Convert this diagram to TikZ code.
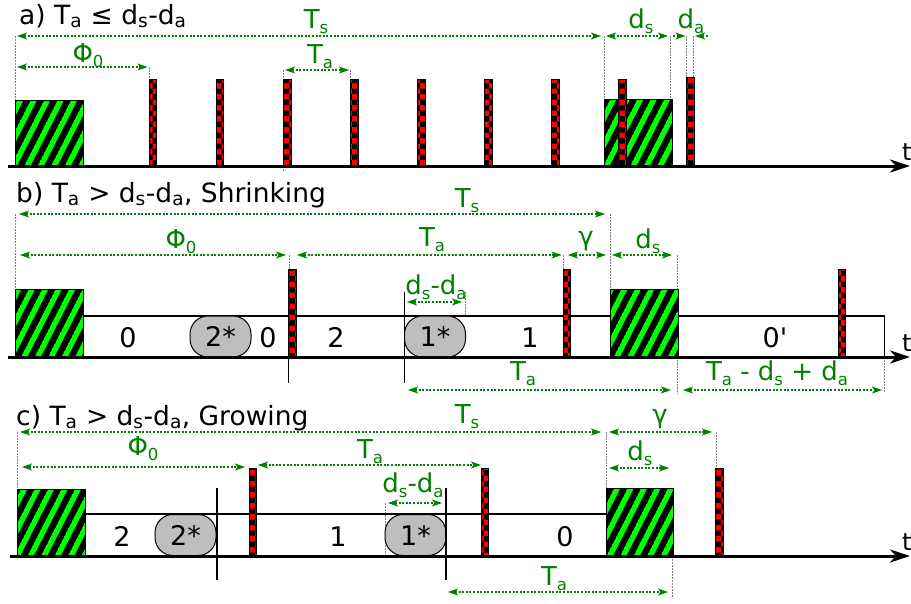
\documentclass[tikz,border=0pt]{standalone}
\usepackage{fontspec}
\setmainfont{DejaVu Sans}
\newfontfamily\plainsans{DejaVu Sans}
\usetikzlibrary{arrows.meta,patterns,patterns.meta}
\definecolor{dimgreen}{RGB}{0,128,0}
\definecolor{hatchgreen}{RGB}{0,255,0}
\definecolor{pillgray}{RGB}{190,190,190}
\newcommand\sub[1]{\textsubscript{#1}}
\newcommand\lsub[1]{\raisebox{-5.5pt}{\fontsize{16.5}{16.5}\selectfont #1}}
\tikzdeclarepattern{
  name=gstripes, type=uncolored,
  bounding box={(0pt,-3.3pt) and (12pt,3.3pt)},
  tile size={(12pt,12pt)},
  tile transformation={rotate=63},
  code={\draw[line width=6.4pt] (0pt,0pt) -- (12pt,0pt);}
}
\tikzset{
  axisline/.style={line width=3pt, -{Stealth[length=20pt,width=13pt,inset=6pt]}},
  hatchbox/.style={draw=black, line width=1pt, fill=hatchgreen, postaction={pattern=gstripes, pattern color=black}},
  alarmbar/.style={draw=black, line width=1pt, fill=red, postaction={pattern=checkerboard, pattern color=black}},
  bandline/.style={draw=black, line width=1.2pt},
  cutline/.style={draw=black, line width=1.2pt},
  pill/.style={draw=black, line width=1pt, fill=pillgray, rounded corners=18pt, minimum width=61pt, minimum height=41pt, inner sep=0pt, font=\fontsize{27}{27}\selectfont},
  dimline/.style={dimgreen, dash pattern=on 2pt off 1.6pt, line width=1.2pt, {Stealth[length=10pt,width=7pt,inset=2.5pt]}-{Stealth[length=10pt,width=7pt,inset=2.5pt]}},
  halfdim/.style={dimgreen, dash pattern=on 2pt off 1.6pt, line width=1.2pt, -{Stealth[length=10pt,width=7pt,inset=2.5pt]}},
  guide/.style={gray, dash pattern=on 1.6pt off 1.4pt, line width=0.8pt},
  lbl/.style={dimgreen, font=\fontsize{26}{26}\selectfont, anchor=base, inner sep=0pt},
  num/.style={black, font=\fontsize{27}{27}\selectfont, anchor=base, inner sep=0pt},
  ttl/.style={black, font=\fontsize{26.5}{26.5}\selectfont, anchor=base west, inner sep=0pt},
  tlabel/.style={anchor=base west, inner sep=0pt, font=\fontsize{24}{24}\selectfont},
}
\newcommand\redbar[3]{\draw[alarmbar] (#1,#2) rectangle (#1+7.5,#3);}
\newcommand\greenbox[4]{\draw[hatchbox] (#1,#2) rectangle (#3,#4);}
\begin{document}
\begin{tikzpicture}[x=1pt,y=-1pt]
\useasboundingbox (0,0) rectangle (911,603);
% ================= panel a =================
\node[ttl] (ttla) at (19,24) {a) T\sub{a} ≤ d\sub{s}-d\sub{a}};
\draw[guide] (15,36) -- (15,166);
\draw[guide] (149.3,67) -- (149.3,79);
\draw[guide] (283.5,70) -- (283.5,171);
\draw[guide] (350.5,70) -- (350.5,79);
\draw[guide] (604,36) -- (604,99);
\draw[guide] (670,36) -- (670,99);
\draw[guide] (686.7,36) -- (686.7,77);
\draw[guide] (693.5,36) -- (693.5,77);
\greenbox{15}{100}{83}{166}
\greenbox{604}{99}{672}{166}
\foreach \x in {149.3,216.3,283.5,350.5,417.5,484.5,551.5,618.7}{\redbar{\x}{79}{166}}
\redbar{686.7}{77}{166}
\draw[axisline] (8,166) -- (910,166);
\node[tlabel] (tA) at (902,160) {t};
\draw[dimline] (17,36) -- (601,36);
\draw[dimline] (606,36) -- (668,36);
\draw[halfdim] (673,36) -- (685.5,36);
\draw[halfdim] (708,36) -- (695,36);
\draw[dimline] (17,67) -- (147.5,67);
\draw[dimline] (285,70) -- (349,70);
\node[lbl] (TsA) at (316,28) {T\lsub{s}};
\node[lbl] (PhA) at (88,62) {Φ\lsub{0}};
\node[lbl] (TaA) at (320,63) {T\lsub{a}};
\node[lbl] (dsA) at (641,28) {d\lsub{s}};
\node[lbl] (daA) at (691,28) {d\lsub{a}};
% ================= panel b =================
\node[ttl] (ttlb) at (16,202) {b) T\sub{a} > d\sub{s}-d\sub{a}, Shrinking};
\draw[guide] (15,214) -- (15,289);
\draw[guide] (289,255) -- (289,269);
\draw[guide] (563.5,255) -- (563.5,269);
\draw[guide] (610,214) -- (610,289);
\draw[guide] (677,255) -- (677,394);
\draw[guide] (884.5,357) -- (884.5,393);
\draw[guide] (465,292) -- (465,316);
\draw[bandline] (83,316) rectangle (884.5,357);
\greenbox{15}{289}{83}{357}
\greenbox{610}{289}{678}{357}
\node[pill] (p2b) at (220.5,336.5) {2*};
\node[pill] (p1b) at (435,336.5) {1*};
\redbar{288.7}{269}{357}
\redbar{563.3}{269}{357}
\redbar{838.3}{269}{357}
\draw[cutline] (288.7,357) -- (288.7,383);
\draw[cutline] (404.3,292) -- (404.3,383);
\draw[axisline] (8,357) -- (910,357);
\node[tlabel] (tB) at (902,351) {t};
\node[num] (n0b) at (128,347) {0};
\node[num] (n0bb) at (268,347) {0};
\node[num] (n2b) at (336,347) {2};
\node[num] (n1b) at (530,347) {1};
\node[num] (n0pb) at (775,347) {\plainsans 0'};
\draw[dimline] (19,214) -- (605,214);
\draw[dimline] (20,255) -- (286,255);
\draw[dimline] (297,255) -- (561.5,255);
\draw[dimline] (568,255) -- (606,255);
\draw[dimline] (612,255) -- (672,255);
\draw[dimline] (407,302) -- (462,302);
\draw[dimline] (408,390) -- (671,390);
\draw[dimline] (683,390) -- (882,390);
\node[lbl] (TsB) at (467,207) {T\lsub{s}};
\node[lbl] (PhB) at (181,248) {Φ\lsub{0}};
\node[lbl] (TaB) at (432,246) {T\lsub{a}};
\node[lbl] (gaB) at (586,245) {γ};
\node[lbl] (dsB) at (648,248) {d\lsub{s}};
\node[lbl] (ddB) at (436,294) {d\lsub{s}-d\lsub{a}};
\node[lbl] (TaB2) at (523,380) {T\lsub{a}};
\node[lbl] (TdB) at (777,380) {T\lsub{a} - d\lsub{s} + d\lsub{a}};
% ================= panel c =================
\node[ttl] (ttlc) at (16,425) {c) T\sub{a} > d\sub{s}-d\sub{a}, Growing};
\draw[guide] (17,432) -- (17,489);
\draw[guide] (606,432) -- (606,488);
\draw[guide] (716,432) -- (716,468);
\draw[guide] (385,503) -- (385,556);
\draw[guide] (672.7,556) -- (672.7,598);
\draw[bandline] (85,514) -- (606,514);
\greenbox{17}{489}{85}{556}
\greenbox{606}{488}{673}{556}
\node[pill] (p2c) at (185.5,535) {2*};
\node[pill] (p1c) at (415.5,535) {1*};
\redbar{249.3}{468}{556}
\redbar{481}{468}{556}
\redbar{715.7}{468}{556}
\draw[cutline] (217,488) -- (217,580);
\draw[cutline] (446,488) -- (446,580);
\draw[axisline] (10,556) -- (910,556);
\node[tlabel] (tC) at (902,550) {t};
\node[num] (n2c) at (122,546) {2};
\node[num] (n1c) at (338,546) {1};
\node[num] (n0c) at (565,546) {0};
\draw[dimline] (20,432) -- (601,432);
\draw[dimline] (609,432) -- (712,432);
\draw[dimline] (22,467) -- (245,467);
\draw[dimline] (258,465) -- (481,465);
\draw[dimline] (388,503) -- (442,503);
\draw[dimline] (609,468) -- (669,468);
\draw[dimline] (448,592) -- (668,592);
\node[lbl] (TsC) at (467,423) {T\lsub{s}};
\node[lbl] (gaC) at (660,423) {γ};
\node[lbl] (PhC) at (143,455) {Φ\lsub{0}};
\node[lbl] (TaC) at (370,458) {T\lsub{a}};
\node[lbl] (dsC) at (640,460) {d\lsub{s}};
\node[lbl] (ddC) at (413,492) {d\lsub{s}-d\lsub{a}};
\node[lbl] (TaC2) at (554,585) {T\lsub{a}};
\end{tikzpicture}
\end{document}
